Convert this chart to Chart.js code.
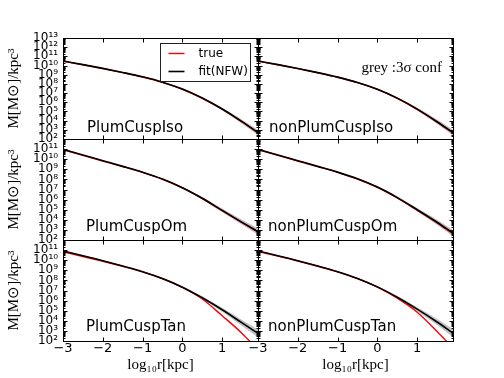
<!DOCTYPE html>
<html><head><meta charset="utf-8">
<script src="https://cdn.jsdelivr.net/npm/chart.js@4"></script>
<style>html,body{margin:0;padding:0;background:#fff;}canvas{display:block;}</style>
</head><body>
<canvas id="c" width="504" height="378"></canvas>
<script>
// ---- data (log10 r in kpc; densities given as log10 of M_sun/kpc^3) ----
const logR = [-3, -2.5, -2, -1.5, -1, -0.5, 0, 0.5, 1, 1.5, 1.9];
const xTicks = [-3, -2, -1, 0, 1];
const yDecadesTop = [2,3,4,5,6,7,8,9,10,11,12,13];
const yDecadesLow = [2,3,4,5,6,7,8,9,10,11,12];
const panelNames = ["PlumCuspIso","nonPlumCuspIso","PlumCuspOm","nonPlumCuspOm","PlumCuspTan","nonPlumCuspTan"];

const isoPlumFit   = [10.49,10.10,9.69,9.25,8.77,8.19,7.44,6.46,5.27,3.89,2.71];
const isoPlumTrue  = [10.47,10.08,9.67,9.23,8.75,8.17,7.42,6.43,5.24,3.85,2.66];
const isoPlumBand  = [0.03,0.03,0.03,0.03,0.04,0.05,0.07,0.10,0.15,0.22,0.30];
const isoNonFit    = [10.49,10.10,9.68,9.23,8.74,8.16,7.42,6.45,5.26,3.88,2.70];
const isoNonTrue   = [10.47,10.08,9.66,9.21,8.72,8.14,7.40,6.42,5.22,3.84,2.64];
const isoNonBand   = [0.03,0.03,0.03,0.03,0.04,0.05,0.07,0.10,0.16,0.24,0.32];

const omPlumFit    = [10.98,10.41,9.85,9.29,8.71,8.03,7.18,6.13,4.93,3.75,2.83];
const omPlumTrue   = [10.95,10.38,9.82,9.27,8.69,8.01,7.16,6.10,4.90,3.71,2.78];
const omPlumBand   = [0.03,0.03,0.03,0.04,0.05,0.06,0.08,0.12,0.18,0.25,0.32];
const omNonFit     = [10.98,10.41,9.85,9.29,8.72,8.06,7.24,6.20,5.00,3.76,2.68];
const omNonTrue    = [10.95,10.38,9.82,9.27,8.70,8.04,7.21,6.16,4.95,3.70,2.62];
const omNonBand    = [0.03,0.03,0.03,0.04,0.05,0.06,0.08,0.12,0.18,0.25,0.32];

const tanPlumFit   = [10.91,10.44,9.95,9.42,8.86,8.18,7.33,6.28,5.09,3.79,2.75];
const tanPlumTrue  = [10.82,10.37,9.90,9.39,8.84,8.16,7.30,6.16,4.50,2.75,1.10];
const tanPlumBand  = [0.04,0.04,0.04,0.04,0.05,0.06,0.08,0.12,0.20,0.30,0.40];
const tanNonFit    = [10.91,10.44,9.95,9.42,8.86,8.19,7.36,6.33,5.15,3.88,2.78];
const tanNonTrue   = [10.86,10.40,9.92,9.40,8.85,8.17,7.33,6.25,4.85,2.95,1.30];
const tanNonBand   = [0.04,0.04,0.04,0.04,0.05,0.06,0.08,0.12,0.20,0.30,0.40];

const panels = [
  {x:'xL', y:'yTop', fit:isoPlumFit, tru:isoPlumTrue, band:isoPlumBand},
  {x:'xR', y:'yTop', fit:isoNonFit,  tru:isoNonTrue,  band:isoNonBand},
  {x:'xL', y:'yMid', fit:omPlumFit,  tru:omPlumTrue,  band:omPlumBand},
  {x:'xR', y:'yMid', fit:omNonFit,   tru:omNonTrue,   band:omNonBand},
  {x:'xL', y:'yBot', fit:tanPlumFit, tru:tanPlumTrue, band:tanPlumBand},
  {x:'xR', y:'yBot', fit:tanNonFit,  tru:tanNonTrue,  band:tanNonBand}
];

const SUP = {'0':'⁰','1':'¹','2':'²','3':'³','4':'⁴','5':'⁵','6':'⁶','7':'⁷','8':'⁸','9':'⁹'};
const sup = n => String(n).split('').map(c=>SUP[c]).join('');

const datasets = [];
panels.forEach(p => {
  datasets.push({label:'fit(NFW)', xAxisID:p.x, yAxisID:p.y,
    data: logR.map((r,i)=>({x:r, y:Math.pow(10,p.fit[i])})),
    borderColor:'#000000', borderWidth:1.6, fill:false, order:0});
  datasets.push({label:'true', xAxisID:p.x, yAxisID:p.y,
    data: logR.map((r,i)=>({x:r, y:Math.pow(10,p.tru[i])})),
    borderColor:'#ff0000', borderWidth:1.4, fill:false, order:1});
  datasets.push({label:'hi', xAxisID:p.x, yAxisID:p.y,
    data: logR.map((r,i)=>({x:r, y:Math.pow(10,p.fit[i]+p.band[i])})),
    borderColor:'rgba(0,0,0,0)', borderWidth:0, backgroundColor:'#c2c2c2', fill:'+1', order:2});
  datasets.push({label:'lo', xAxisID:p.x, yAxisID:p.y,
    data: logR.map((r,i)=>({x:r, y:Math.pow(10,p.fit[i]-p.band[i])})),
    borderColor:'rgba(0,0,0,0)', borderWidth:0, fill:false, order:2});
});

function yScale(decades, labelMax) {
  return {
    type:'logarithmic', axis:'y', position:'left', stack:'rows', stackWeight:1,
    min: Math.pow(10, decades[0]), max: Math.pow(10, decades[decades.length-1]),
    grid:{display:false, drawTicks:false}, border:{display:false},
    ticks:{autoSkip:false, padding:5, color:'#000', font:{family:'DejaVu Sans', size:12},
      callback:(v)=>{const e=Math.round(Math.log10(v)); return e<=labelMax ? '10'+sup(e) : '';}},
    afterBuildTicks:(s)=>{ s.ticks = decades.map(d=>({value:Math.pow(10,d)})); },
    afterFit:(s)=>{ s.width = 63; },
    title:{display:true, text:'M[M⊙]/kpc³', color:'#000', font:{family:'Liberation Serif', size:15}, padding:{top:5,bottom:0}}
  };
}
function xScale() {
  return {
    type:'linear', axis:'x', position:'bottom', stack:'cols', stackWeight:1,
    min:-3, max:1.9,
    grid:{display:false, drawTicks:false}, border:{display:false},
    ticks:{autoSkip:false, padding:0, maxRotation:0, color:'#000', font:{family:'DejaVu Sans', size:13},
      callback:(v)=> v<0 ? '\u2212'+(-v) : String(v)},
    afterBuildTicks:(s)=>{ s.ticks = xTicks.map(v=>({value:v})); },
    afterFit:(s)=>{ s.height = 37; },
    title:{display:true, text:'log₁₀r[kpc]', color:'#000', font:{family:'Liberation Serif', size:15}, padding:{top:0,bottom:4}}
  };
}

const decor = {
  id:'decor',
  afterDatasetsDraw(chart) {
    const ctx = chart.ctx, s = chart.scales;
    const cols = [s.xL, s.xR], rows = [s.yTop, s.yMid, s.yBot];
    const rowDec = [yDecadesTop, yDecadesLow, yDecadesLow];
    const px = v => Math.round(v) + 0.5;
    ctx.save();
    ctx.strokeStyle = '#000'; ctx.lineWidth = 1;
    rows.forEach((ys, ri) => cols.forEach((xs, ci) => {
      const L = px(xs.left), R = px(xs.right), T = px(ys.top), B = px(ys.bottom);
      ctx.beginPath();
      xTicks.forEach(v => {
        const x = px(xs.getPixelForValue(v));
        ctx.moveTo(x, B); ctx.lineTo(x, B-4);
        ctx.moveTo(x, T); ctx.lineTo(x, T+4);
      });
      const dec = rowDec[ri];
      dec.forEach(d => {
        const y = px(ys.getPixelForValue(Math.pow(10,d)));
        ctx.moveTo(L, y); ctx.lineTo(L+4, y);
        ctx.moveTo(R, y); ctx.lineTo(R-4, y);
        if (d < dec[dec.length-1]) {
          for (let m = 2; m <= 9; m++) {
            const ym = px(ys.getPixelForValue(m*Math.pow(10,d)));
            ctx.moveTo(L, ym); ctx.lineTo(L+2, ym);
            ctx.moveTo(R, ym); ctx.lineTo(R-2, ym);
          }
        }
      });
      ctx.stroke();
      ctx.strokeRect(L, T, R-L, B-T);
    }));
    // panel names
    ctx.fillStyle = '#000';
    ctx.font = '15px "DejaVu Sans"';
    ctx.textAlign = 'left'; ctx.textBaseline = 'alphabetic';
    const nameOff = [[24,11],[23,10],[23,10]];
    const baseOff = [7,9,10];
    rows.forEach((ys, ri) => cols.forEach((xs, ci) => {
      ctx.fillText(panelNames[ri*2+ci], xs.left + nameOff[ri][ci], ys.bottom - baseOff[ri]);
    }));
    // annotation
    ctx.font = '15px "Liberation Serif"';
    ctx.textAlign = 'right';
    ctx.fillText('grey :3σ conf', s.xR.right - 11, s.yTop.top + 34);
    // legend
    const lx = px(s.xL.right - 98), ly = px(s.yTop.top + 5), lw = 90, lh = 38;
    ctx.fillStyle = '#fff';
    ctx.fillRect(lx, ly, lw, lh);
    ctx.strokeStyle = '#222'; ctx.lineWidth = 1;
    ctx.strokeRect(lx, ly, lw, lh);
    ctx.lineWidth = 1.4; ctx.strokeStyle = '#ff0000';
    ctx.beginPath(); ctx.moveTo(lx+8, ly+10); ctx.lineTo(lx+24, ly+10); ctx.stroke();
    ctx.lineWidth = 1.6; ctx.strokeStyle = '#000';
    ctx.beginPath(); ctx.moveTo(lx+8, ly+28); ctx.lineTo(lx+24, ly+28); ctx.stroke();
    ctx.fillStyle = '#000';
    ctx.font = '12px "DejaVu Sans"';
    ctx.textAlign = 'left'; ctx.textBaseline = 'middle';
    ctx.fillText('true', lx+38, ly+10);
    ctx.fillText('fit(NFW)', lx+38, ly+28);
    ctx.restore();
  }
};

new Chart(document.getElementById('c'), {
  type:'line',
  data:{datasets},
  options:{
    responsive:false, animation:false, devicePixelRatio:1,
    layout:{padding:{left:0, top:38, right:51, bottom:0}},
    plugins:{legend:{display:false}, tooltip:{enabled:false}},
    elements:{point:{radius:0}, line:{cubicInterpolationMode:'monotone'}},
    scales:{
      xL: xScale(),
      xR: xScale(),
      yBot: yScale(yDecadesLow, 11),
      yMid: yScale(yDecadesLow, 11),
      yTop: yScale(yDecadesTop, 13)
    }
  },
  plugins:[decor]
});
</script>
</body></html>
